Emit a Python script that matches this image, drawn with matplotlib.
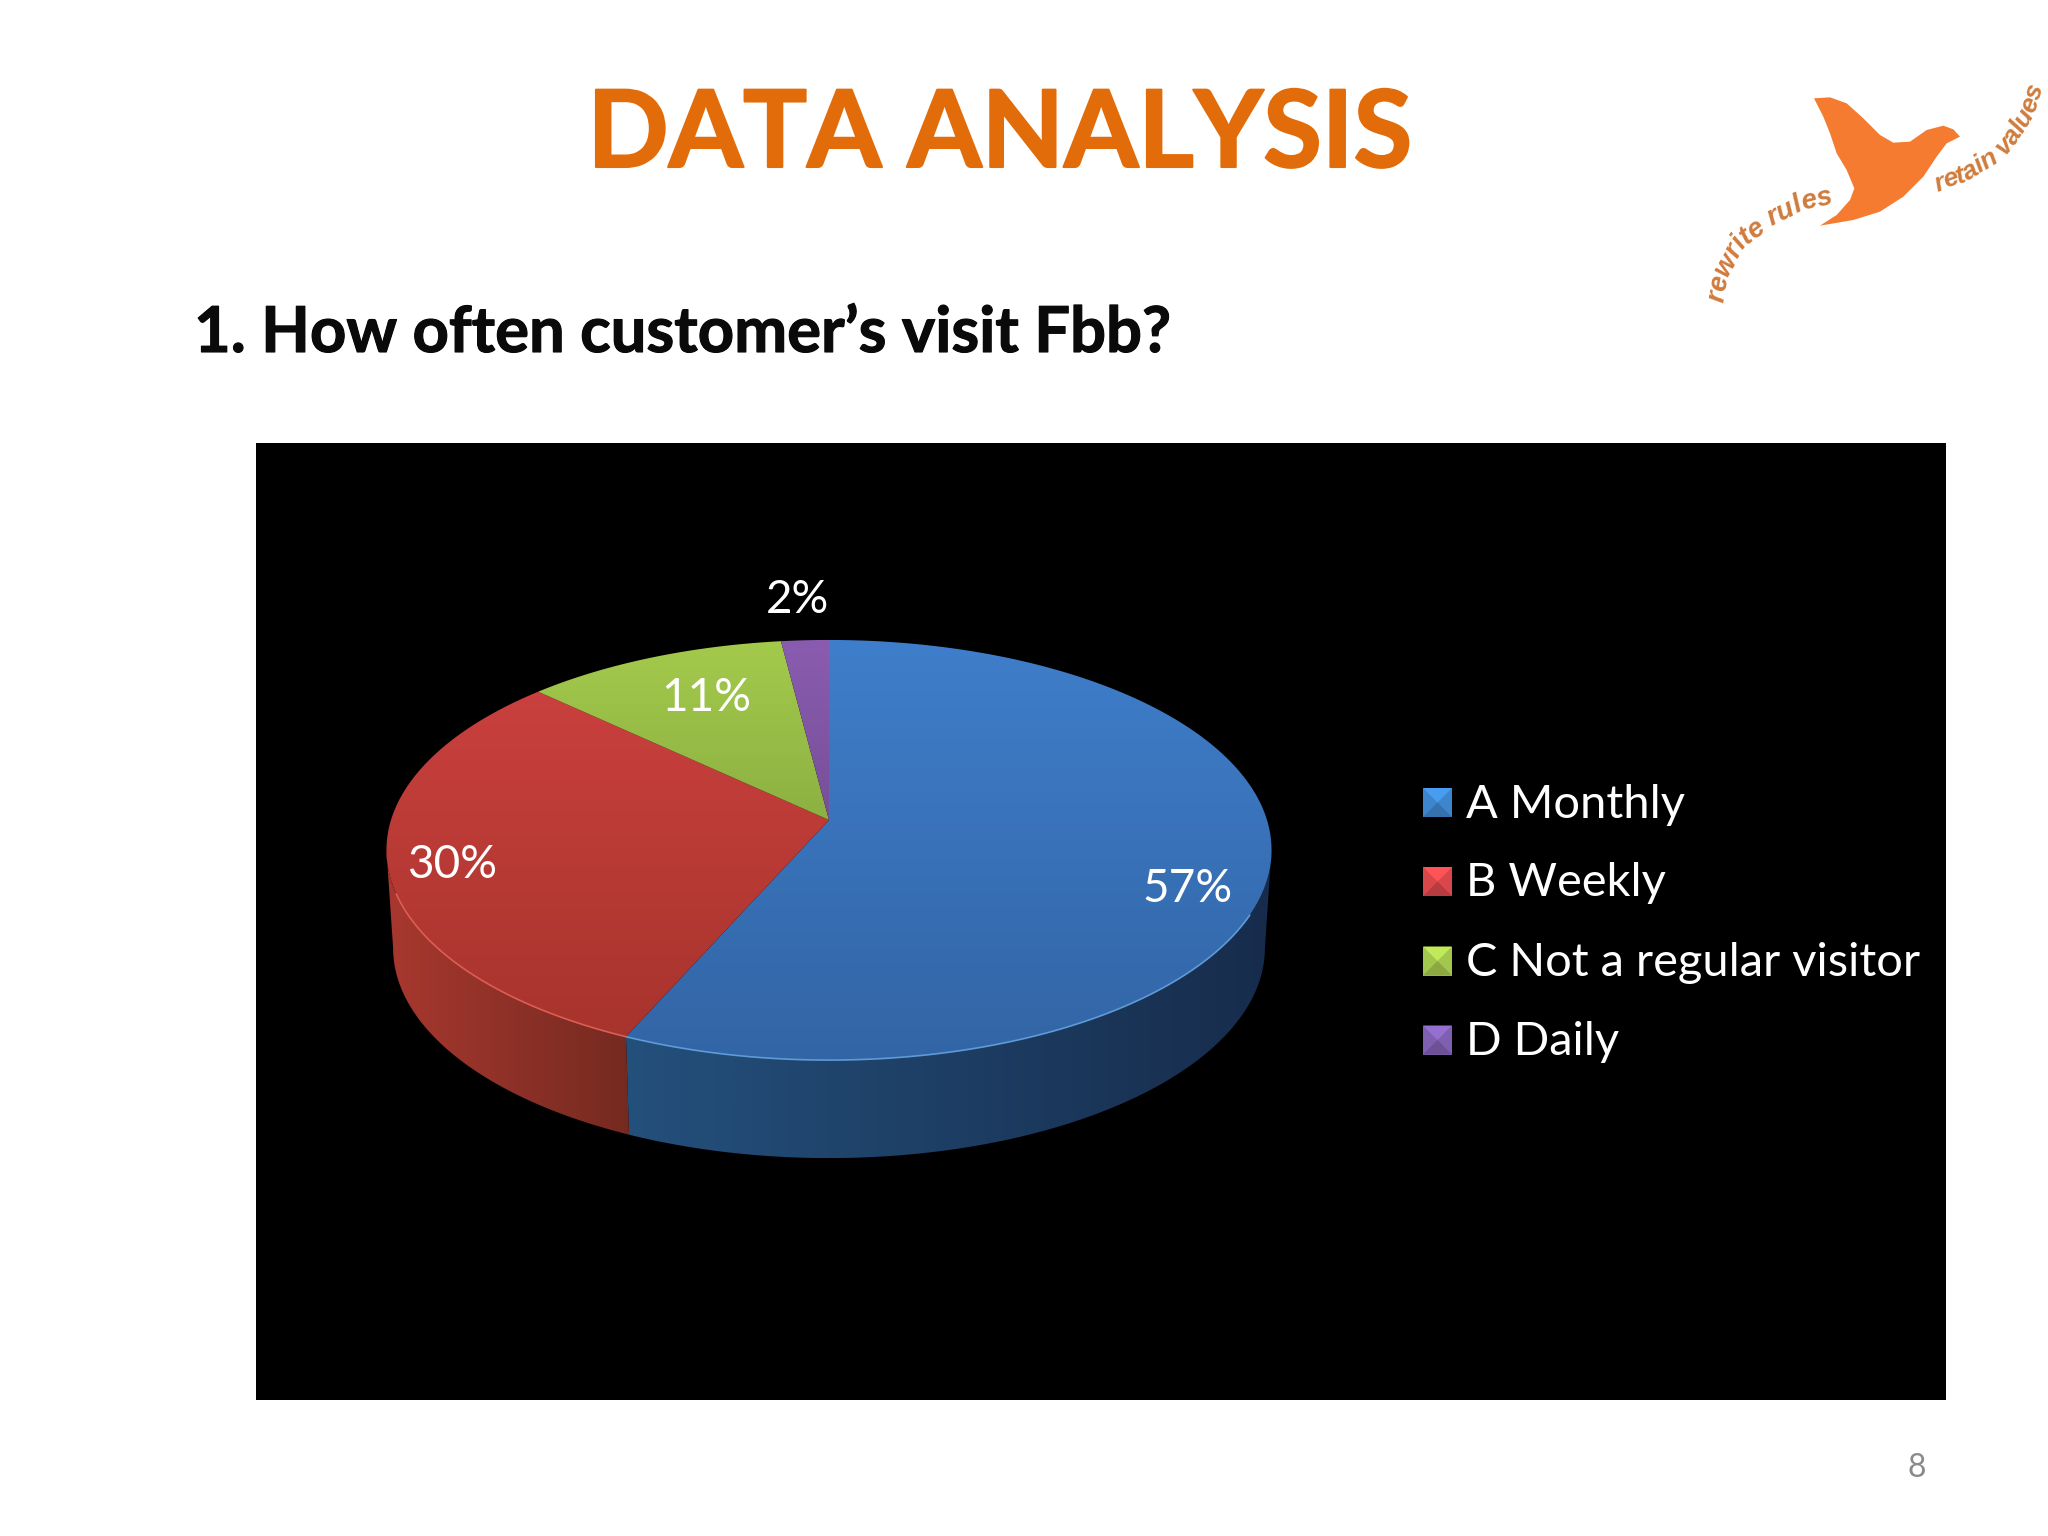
import numpy as np
import matplotlib
matplotlib.use("Agg")
import matplotlib.pyplot as plt
import matplotlib.patheffects as pe
from matplotlib.patches import Polygon, Rectangle
from matplotlib.textpath import TextPath
from matplotlib.font_manager import FontProperties

# chart data, shares (printed labels are rounded)
categories = ["A Monthly", "B Weekly", "C Not a regular visitor", "D Daily"]
shares = [56.6, 30.4, 11.0, 2.0]
pct_labels = ["57%", "30%", "11%", "2%"]

# slice styles: top gradient (back to front), wall gradient (left to right)
top_back = ["#3F7ECB", "#CF4240", "#A4CA4C", "#8A5CB0"]
top_front = ["#3265A5", "#A5332C", "#6D8F34", "#5E3E78"]
wall_left = ["#24507C", "#A8382F", "#6D8F34", "#5E3E78"]
wall_right = ["#172C4C", "#752A20", "#5D7A2C", "#4E3468"]
rim_colors = ["#5E9BD8", "#DC5E54", "#A4CA4C", "#8A5CB0"]
legend_colors = ["#3D85CC", "#D8474A", "#A3C64C", "#7F5FB0"]

# layout of the pie in pixels
CX, RX = 829.0, 438.0
Y0, YA, K = 820.0, -88.6, 0.1429
WALL = 98.0
WALL_SX = 0.985
# angles where the wall meets the outline of the pie
SIDE = np.degrees(np.arccos(-K))

pct_pos = [(1188, 889), (452, 865), (706, 698), (798, 600)]
legend_y = [802.5, 881.5, 961, 1040]


def project(deg, wall=False):
    t = np.radians(deg)
    u, v = np.sin(t), np.cos(t)
    w = 1 + K * v
    x = RX * u / w
    y = (YA * v + Y0) / w
    if wall:
        return CX + WALL_SX * x, y + WALL
    return CX + x, y


def shaded(ax, poly_xy, c0, c1, vertical, extent=None):
    poly_xy = np.asarray(poly_xy)
    c0 = np.array(matplotlib.colors.to_rgb(c0))
    c1 = np.array(matplotlib.colors.to_rgb(c1))
    f = np.linspace(0, 1, 256)[:, None]
    img = c0 * (1 - f) + c1 * f
    img = img[:, None, :] if vertical else img[None, :, :]
    if extent is None:
        extent = (poly_xy[:, 0].min(), poly_xy[:, 0].max(),
                  poly_xy[:, 1].max(), poly_xy[:, 1].min())
    patch = Polygon(poly_xy, closed=True, transform=ax.transData, fc="none", ec="none")
    ax.add_patch(patch)
    im = ax.imshow(img, extent=extent, aspect="auto", interpolation="bilinear", zorder=patch.get_zorder())
    im.set_clip_path(patch)


def curved_text(ax, text, curve, size, color):
    # place letters one by one along a polyline
    curve = np.array(curve, dtype=float)
    seg = np.hypot(*np.diff(curve, axis=0).T)
    dist = np.r_[0, np.cumsum(seg)]
    fp = FontProperties(family="Liberation Sans", weight="bold", style="italic")
    px = size * 100 / 72
    adv = []
    for i in range(len(text)):
        w1 = TextPath((0, 0), text[:i + 1] + "|", size=px, prop=fp).get_extents().x1
        w0 = TextPath((0, 0), "|", size=px, prop=fp).get_extents().x1
        adv.append(w1 - w0)
    adv = np.array(adv)
    stretch = dist[-1] / adv[-1]
    prev = np.r_[0, adv[:-1]]
    for ch, a, b in zip(text, prev, adv):
        d = (a + b) / 2 * stretch
        x = np.interp(d, dist, curve[:, 0])
        y = np.interp(d, dist, curve[:, 1])
        dx = np.interp(d + 4, dist, curve[:, 0]) - np.interp(d - 4, dist, curve[:, 0])
        dy = np.interp(d + 4, dist, curve[:, 1]) - np.interp(d - 4, dist, curve[:, 1])
        ax.text(x, y, ch, rotation=np.degrees(np.arctan2(-dy, dx)), rotation_mode="anchor",
                ha="center", va="center", fontproperties=fp, fontsize=size, color=color)


plt.rcParams["font.family"] = ["Lato", "DejaVu Sans"]
fig = plt.figure(figsize=(20.48, 15.36), dpi=100)
ax = fig.add_axes([0, 0, 1, 1])

# slide text, a thin stroke because the original face is heavier
ax.text(1000, 136, "DATA ANALYSIS", fontsize=77, fontweight="bold", color="#E36C0A", ha="center", va="center",
        path_effects=[pe.withStroke(linewidth=1.5, foreground="#E36C0A")])
ax.text(194, 334, "1. How often customer\u2019s visit Fbb?", fontsize=45.6, fontweight="bold", color="#0A0A0A",
        ha="left", va="center", path_effects=[pe.withStroke(linewidth=0.8, foreground="#0A0A0A")])
ax.text(1917, 1468, "8", fontsize=23, color="#8A8A8A", ha="center", va="center")

# logo
bird = np.array([(462, 115), (510, 112), (560, 130), (610, 175), (660, 225), (700, 248), (750, 245),
                 (800, 210), (850, 197), (880, 208), (900, 230), (860, 250), (830, 290), (790, 350),
                 (730, 410), (660, 455), (580, 480), (480, 497), (530, 465), (570, 420), (583, 385),
                 (560, 330), (530, 280), (510, 220), (490, 170)], dtype=float) / 3 + (1660, 60)
ax.add_patch(Polygon(bird, closed=True, fc="#F47B30", ec="none"))
curve1 = np.array([(170, 725), (185, 640), (240, 545), (330, 475), (420, 432), (515, 408)], dtype=float) / 3 + (1660, 60)
curve2 = np.array([(825, 375), (920, 340), (1010, 285), (1055, 235), (1100, 160), (1130, 75)], dtype=float) / 3 + (1660, 60)
curved_text(ax, "rewrite rules", curve1, 20, "#D07B3C")
curved_text(ax, "retain values", curve2, 19, "#D07B3C")

# black chart area
ax.add_patch(Rectangle((256, 443), 1690, 957, fc="black", ec="none"))

# pie from the shares, clockwise from the top
edges = np.r_[0, np.cumsum(shares)] / np.sum(shares) * 360
y_top, y_bot = project(0)[1], project(180)[1]

# walls first, only the part between the two outline angles can show
for i in range(len(shares)):
    start, end = max(edges[i], SIDE), min(edges[i + 1], 360 - SIDE)
    if end <= start:
        continue
    deg = np.linspace(start, end, 200)
    tx, ty = project(deg)
    bx, by = project(deg, wall=True)
    poly = np.c_[np.r_[tx, bx[::-1]], np.r_[ty, by[::-1]]]
    shaded(ax, poly, wall_left[i], wall_right[i], False)

# top faces
for i in range(len(shares)):
    deg = np.linspace(edges[i], edges[i + 1], 200)
    tx, ty = project(deg)
    poly = np.c_[np.r_[CX, tx], np.r_[Y0, ty]]
    ext = (CX - RX * 1.1, CX + RX * 1.1, y_bot, y_top)
    shaded(ax, poly, top_back[i], top_front[i], True, extent=ext)
    # light rim on the front edge
    front = (deg > 115) & (deg < 250)
    if front.any():
        ax.plot(tx[front], ty[front], color=rim_colors[i], lw=1.2, solid_capstyle="round")

for txt, (x, y) in zip(pct_labels, pct_pos):
    ax.text(x, y, txt, fontsize=33, color="white", ha="center", va="center")

# legend with bevelled keys
for name, col, y in zip(categories, legend_colors, legend_y):
    x0, x1, y0, y1 = 1423, 1452, y - 14.5, y + 14.5
    xm, ym = (x0 + x1) / 2, (y0 + y1) / 2
    base = np.array(matplotlib.colors.to_rgb(col))
    ax.add_patch(Rectangle((x0, y0), x1 - x0, y1 - y0, fc=base, ec="none"))
    ax.add_patch(Polygon([(x0, y0), (x1, y0), (xm, ym)], fc=np.minimum(base * 1.18, 1), ec="none"))
    ax.add_patch(Polygon([(x0, y1), (x1, y1), (xm, ym)], fc=base * 0.85, ec="none"))
    ax.text(1466, y + 2, name, fontsize=33.8, color="white", ha="left", va="center")

ax.set_xlim(0, 2048)
ax.set_ylim(1536, 0)
ax.axis("off")
fig.savefig("out.png", dpi=100, facecolor="white")
